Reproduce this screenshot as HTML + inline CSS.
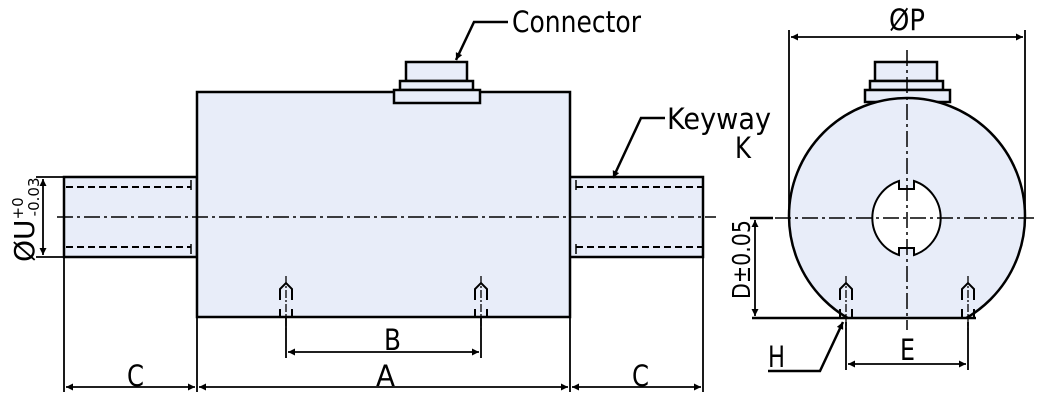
<!DOCTYPE html>
<html><head><style>
html,body{margin:0;padding:0;background:#fff;width:1050px;height:406px;overflow:hidden}
svg{display:block}
text{font-family:"DejaVu Sans","Liberation Sans",sans-serif;fill:#000}
</style></head><body>
<svg width="1050" height="406" viewBox="0 0 1050 406" xmlns="http://www.w3.org/2000/svg">
<defs>
<marker id="ar" viewBox="0 0 10 10" refX="10" refY="5" markerWidth="11" markerHeight="7" orient="auto-start-reverse" markerUnits="userSpaceOnUse"><path d="M0,0 L10,5 L0,10 z" fill="#000"/></marker>
<g id="hole">
<path d="M-6,300 V289 L0,283 L6,289 V300 M-6,309 V317 M6,309 V317" fill="none" stroke="#000" stroke-width="2"/>
<line x1="0" y1="276" x2="0" y2="330" stroke="#000" stroke-width="1.3" stroke-dasharray="8,2,2,2"/>
</g>
</defs>
<g fill="#e8edf9" stroke="#000" stroke-width="2.5">
<rect x="64" y="177" width="133" height="80"/>
<rect x="569" y="177" width="134" height="80"/>
<rect x="197" y="92" width="373" height="225"/>
<rect x="406" y="62" width="61" height="19"/>
<rect x="400" y="81" width="73" height="9"/>
<rect x="394" y="90" width="86" height="13"/>
</g>
<g stroke="#000" stroke-width="2" stroke-dasharray="7,4" fill="none">
<line x1="66" y1="187" x2="191" y2="187"/><line x1="66" y1="247" x2="191" y2="247"/>
<line x1="576" y1="187" x2="703" y2="187"/><line x1="576" y1="247" x2="703" y2="247"/>
</g>
<g stroke="#000" stroke-width="1.5">
<line x1="191" y1="180" x2="191" y2="190"/><line x1="191" y1="244" x2="191" y2="254"/>
<line x1="576" y1="180" x2="576" y2="190"/><line x1="576" y1="244" x2="576" y2="254"/>
</g>
<line x1="57" y1="217" x2="716" y2="217" stroke="#000" stroke-width="1.5" stroke-dasharray="16,4,3,4"/>
<use href="#hole" transform="translate(286,0)"/>
<use href="#hole" transform="translate(481,0)"/>
<g stroke="#000" stroke-width="1.8" fill="none">
<line x1="286" y1="317" x2="286" y2="358"/><line x1="481" y1="317" x2="481" y2="358"/>
<line x1="288" y1="352" x2="479" y2="352" marker-start="url(#ar)" marker-end="url(#ar)"/>
<line x1="64" y1="257" x2="64" y2="392"/><line x1="197" y1="317" x2="197" y2="392"/>
<line x1="570" y1="317" x2="570" y2="392"/><line x1="703" y1="257" x2="703" y2="392"/>
<line x1="66" y1="387" x2="195" y2="387" marker-start="url(#ar)" marker-end="url(#ar)"/>
<line x1="199" y1="387" x2="568" y2="387" marker-start="url(#ar)" marker-end="url(#ar)"/>
<line x1="572" y1="387" x2="701" y2="387" marker-start="url(#ar)" marker-end="url(#ar)"/>
<line x1="36" y1="177" x2="64" y2="177"/><line x1="36" y1="257" x2="64" y2="257"/>
<line x1="43" y1="179" x2="43" y2="255" marker-start="url(#ar)" marker-end="url(#ar)"/>
<path d="M508,22 H474 L456,60" stroke-width="2.5" marker-end="url(#ar)"/>
<path d="M665,118 H641 L613,178" stroke-width="2.5" marker-end="url(#ar)"/>
</g>
<g font-size="29" lengthAdjust="spacingAndGlyphs">
<text x="512" y="32" textLength="129" lengthAdjust="spacingAndGlyphs">Connector</text>
<text x="667" y="129" textLength="104" lengthAdjust="spacingAndGlyphs">Keyway</text>
<text x="735" y="158" textLength="16" lengthAdjust="spacingAndGlyphs">K</text>
<text x="384" y="350" textLength="17" lengthAdjust="spacingAndGlyphs">B</text>
<text x="376" y="386" textLength="19" lengthAdjust="spacingAndGlyphs">A</text>
<text x="127" y="386" textLength="17" lengthAdjust="spacingAndGlyphs">C</text>
<text x="632" y="386" textLength="17" lengthAdjust="spacingAndGlyphs">C</text>
<text x="889" y="30" textLength="36" lengthAdjust="spacingAndGlyphs">ØP</text>
<text x="900" y="360" textLength="15" lengthAdjust="spacingAndGlyphs">E</text>
<text x="768" y="367" textLength="17" lengthAdjust="spacingAndGlyphs">H</text>
</g>
<text transform="translate(34,262) rotate(-90)" font-size="28">ØU<tspan font-size="15" dy="-11">+0</tspan><tspan font-size="15" dx="-19" dy="16">-0.03</tspan></text>

<!-- right view -->
<defs><clipPath id="cc"><rect x="700" y="0" width="350" height="318"/></clipPath></defs>
<g fill="#e8edf9" stroke="#000" stroke-width="2.5">
<rect x="875" y="62" width="62" height="19"/>
<rect x="870" y="81" width="73" height="9"/>
<rect x="865" y="90" width="85" height="12"/>
</g>
<circle cx="907" cy="216" r="118" fill="#e8edf9" stroke="#000" stroke-width="2.5" clip-path="url(#cc)"/>
<line x1="838" y1="318" x2="976" y2="318" stroke="#000" stroke-width="2.5"/>
<path d="M899,181 V189 H914 V181 A39,39 0 0 1 914,255 V248 H899 V255 A39,39 0 0 1 899,181 Z" fill="#fff" stroke="#000" stroke-width="2"/>
<line x1="907" y1="50" x2="907" y2="330" stroke="#000" stroke-width="1.5" stroke-dasharray="16,4,3,4"/>
<line x1="775" y1="218" x2="1036" y2="218" stroke="#000" stroke-width="1.5" stroke-dasharray="16,4,3,4"/>
<use href="#hole" transform="translate(846,0)"/>
<use href="#hole" transform="translate(968,0)"/>
<g stroke="#000" stroke-width="1.8" fill="none">
<line x1="789" y1="30" x2="789" y2="216"/><line x1="1025" y1="30" x2="1025" y2="216"/>
<line x1="791" y1="37" x2="1023" y2="37" marker-start="url(#ar)" marker-end="url(#ar)"/>
<line x1="750" y1="218" x2="773" y2="218" stroke-width="2.5"/>
<line x1="752" y1="318" x2="838" y2="318" stroke-width="2.5"/>
<line x1="755" y1="220" x2="755" y2="316" marker-start="url(#ar)" marker-end="url(#ar)"/>
<line x1="846" y1="322" x2="846" y2="370"/><line x1="968" y1="322" x2="968" y2="370"/>
<line x1="848" y1="364" x2="966" y2="364" marker-start="url(#ar)" marker-end="url(#ar)"/>
<path d="M768,371 H820 L843,322" stroke-width="2.5" marker-end="url(#ar)"/>
</g>
<text transform="translate(750,299) rotate(-90)" font-size="25" textLength="79" lengthAdjust="spacingAndGlyphs">D±0.05</text>
</svg>
</body></html>
